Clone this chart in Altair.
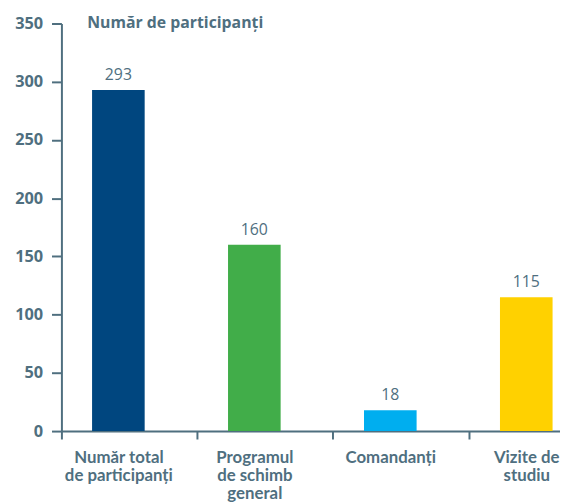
import altair as alt
import pandas as pd

categories = ["Număr total|de participanți", "Programul|de schimb|general", "Comandanți", "Vizite de|studiu"]
values = [293, 160, 18, 115]
colors = ["#00467f", "#41ad49", "#00aeef", "#ffd100"]
y_ticks = [0, 50, 100, 150, 200, 250, 300, 350]
title_text = "Număr de participanți"

SLATE = "#4f6f7f"
FONT = "Open Sans"
BFONT = "Lato"

df = pd.DataFrame({"cat": categories, "val": values})

x_enc = alt.X(
    "cat:N",
    sort=categories,
    scale=alt.Scale(paddingInner=0.6131, paddingOuter=0.14, align=0.805, round=False),
    axis=alt.Axis(
        title=None,
        labelAngle=0,
        labelExpr="split(datum.label, '|')",
        labelFont=BFONT,
        labelFontWeight="bold",
        labelFontSize=17,
        labelLineHeight=18,
        labelColor=SLATE,
        labelPadding=11,
        labelBaseline="top",
        tickOffset=-58,
        labelOffset=58,
        tickSize=8,
        tickWidth=2,
        tickColor=SLATE,
        domainColor=SLATE,
        domainWidth=2,
        labelOverlap=False,
    ),
)

y_enc = alt.Y(
    "val:Q",
    scale=alt.Scale(domain=[0, 350], nice=False),
    axis=alt.Axis(
        title=None,
        values=y_ticks,
        grid=False,
        labelFont=FONT,
        labelFontWeight="bold",
        labelFontSize=16.5,
        labelColor=SLATE,
        labelPadding=9,
        tickSize=10,
        tickWidth=2,
        tickColor=SLATE,
        domainColor=SLATE,
        domainWidth=2,
    ),
)

base = alt.Chart(df)

bars = base.mark_bar().encode(
    x=x_enc,
    y=y_enc,
    color=alt.Color("cat:N", scale=alt.Scale(domain=categories, range=colors), legend=None),
)

labels = base.mark_text(
    baseline="bottom", dy=-7, font=FONT, fontSize=16, color=SLATE
).encode(
    x=alt.X("cat:N", sort=categories),
    y="val:Q",
    text="val:Q",
)

title = alt.Chart(pd.DataFrame({"t": [title_text]})).mark_text(
    align="left", baseline="middle", font=FONT, fontSize=16, fontWeight="bold", color=SLATE
).encode(x=alt.value(26), y=alt.value(0), text="t:N")

chart = alt.layer(bars, labels, title).properties(
    width=504,
    height=412,
    padding={"left": 54, "top": 13, "right": 0, "bottom": 69},
    autosize="none",
).configure_view(stroke=None)

chart.save("out.html", embed_options={"renderer": "svg", "actions": False})
